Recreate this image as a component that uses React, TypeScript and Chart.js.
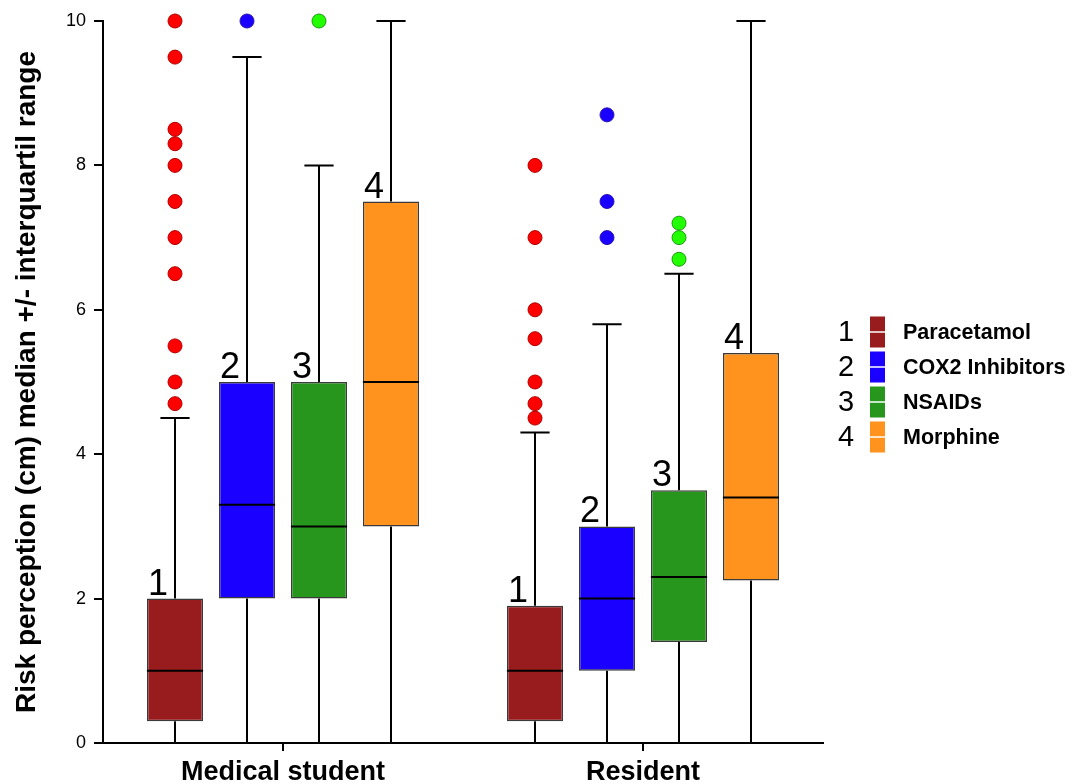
import React, { useEffect, useRef } from 'react';
import { Chart, registerables } from 'chart.js';

Chart.register(...registerables);

const categories = ['Medical student', 'Resident'];
const drugs = ['Paracetamol', 'COX2 Inhibitors', 'NSAIDs', 'Morphine'];
const drugNumbers = ['1', '2', '3', '4'];
const boxColors = ['#981b1e', '#1a00ff', '#27961c', '#ff931e'];
const outlierColors = ['#ff0000', '#1a00ff', '#22ff00', '#ff931e'];
const outlierBorders = ['#b00000', '#2a14b0', '#1c9a10', '#b06010'];

// indexed [drug][group]
const whiskerLow = [[0, 0], [0, 0], [0, 0], [0, 0]];
const q1 = [[0.3, 0.3], [2, 1], [2, 1.4], [3, 2.25]];
const median = [[1, 1], [3.3, 2], [3, 2.3], [5, 3.4]];
const q3 = [[2, 1.9], [5, 3], [5, 3.5], [7.5, 5.4]];
const whiskerHigh = [[4.5, 4.3], [9.5, 5.8], [8, 6.5], [10, 10]];

const paracetamolOutliers = [[4.7, 5, 5.5, 6.5, 7, 7.5, 8, 8.3, 8.5, 9.5, 10], [4.5, 4.7, 5, 5.6, 6, 7, 8]];
const cox2Outliers = [[10], [7, 7.5, 8.7]];
const nsaidOutliers = [[10], [6.7, 7, 7.2]];
const morphineOutliers: number[][] = [[], []];
const outliers = [paracetamolOutliers, cox2Outliers, nsaidOutliers, morphineOutliers];

const yTicks = [0, 2, 4, 6, 8, 10];

const CAT_PCT = 0.8;
const BAR_PCT = 0.78;
const FONT = "'Liberation Sans', Arial, Helvetica, sans-serif";

// x position (in category units) of drug d inside group g
const slotX = (g: number, d: number) => g + (d - (drugs.length - 1) / 2) * (CAT_PCT / drugs.length);

const boxPlugin = {
  id: 'boxParts',
  beforeDatasetsDraw(chart: any) {
    const { ctx } = chart;
    const y = chart.scales.y;
    ctx.save();
    ctx.strokeStyle = '#000';
    ctx.lineWidth = 2;
    for (let d = 0; d < drugs.length; d++) {
      const meta = chart.getDatasetMeta(d);
      meta.data.forEach((bar: any, g: number) => {
        const x = bar.x;
        const w = bar.width;
        const yLo = y.getPixelForValue(whiskerLow[d][g]);
        const yHi = y.getPixelForValue(whiskerHigh[d][g]);
        const yQ1 = y.getPixelForValue(q1[d][g]);
        const yQ3 = y.getPixelForValue(q3[d][g]);
        ctx.beginPath();
        ctx.moveTo(x, yQ1);
        ctx.lineTo(x, yLo);
        ctx.moveTo(x, yQ3);
        ctx.lineTo(x, yHi);
        ctx.moveTo(x - w * 0.26, yHi);
        ctx.lineTo(x + w * 0.26, yHi);
        ctx.stroke();
      });
    }
    ctx.restore();
  },
  afterDatasetDraw(chart: any, args: any) {
    const d = args.index;
    if (d >= drugs.length) return;
    const { ctx } = chart;
    const y = chart.scales.y;
    const meta = chart.getDatasetMeta(d);
    ctx.save();
    meta.data.forEach((bar: any, g: number) => {
      const x = bar.x;
      const w = bar.width;
      const yM = y.getPixelForValue(median[d][g]);
      ctx.strokeStyle = '#000';
      ctx.lineWidth = 2;
      ctx.beginPath();
      ctx.moveTo(x - w / 2, yM);
      ctx.lineTo(x + w / 2, yM);
      ctx.stroke();
      const yQ3 = y.getPixelForValue(q3[d][g]);
      ctx.fillStyle = '#000';
      ctx.font = `36px ${FONT}`;
      ctx.textAlign = 'center';
      ctx.textBaseline = 'alphabetic';
      ctx.fillText(drugNumbers[d], x - 17, yQ3 - 4);
    });
    ctx.restore();
  },
  afterDraw(chart: any) {
    const { ctx, chartArea } = chart;
    ctx.save();
    const x0 = chartArea.right;
    drugs.forEach((name, i) => {
      const cy = 332 + i * 35;
      ctx.fillStyle = '#000';
      ctx.font = `29px ${FONT}`;
      ctx.textAlign = 'center';
      ctx.textBaseline = 'middle';
      ctx.fillText(drugNumbers[i], x0 + 23, cy + 1);
      ctx.fillStyle = boxColors[i];
      ctx.fillRect(x0 + 47, cy - 15.5, 15, 31);
      ctx.strokeStyle = '#fff';
      ctx.lineWidth = 1.5;
      ctx.beginPath();
      ctx.moveTo(x0 + 47, cy);
      ctx.lineTo(x0 + 62, cy);
      ctx.stroke();
      ctx.fillStyle = '#000';
      ctx.font = `bold 21.5px ${FONT}`;
      ctx.textAlign = 'left';
      ctx.fillText(name, x0 + 80, cy + 1);
    });
    ctx.restore();
  },
};

export default function App() {
  const ref = useRef<HTMLCanvasElement | null>(null);

  useEffect(() => {
    if (!ref.current) return;
    const barSets = drugs.map((name, d) => ({
      type: 'bar' as const,
      label: name,
      data: categories.map((_, g) => ({ x: slotX(g, d), y: [q1[d][g], q3[d][g]] })),
      backgroundColor: boxColors[d],
      borderColor: '#3a3a3a',
      borderWidth: 1.5,
      borderSkipped: false,
      categoryPercentage: 1,
      barPercentage: BAR_PCT,
      grouped: false,
      xAxisID: 'xo',
      yAxisID: 'y',
    }));
    const pointSets = drugs.map((name, d) => ({
      type: 'scatter' as const,
      label: name + ' outliers',
      data: outliers[d].flatMap((vals, g) => vals.map((v) => ({ x: slotX(g, d), y: v }))),
      backgroundColor: outlierColors[d],
      borderColor: outlierBorders[d],
      borderWidth: 1,
      pointRadius: 7,
      showLine: false,
      clip: false,
      xAxisID: 'xo',
      yAxisID: 'y',
    }));

    const chart = new Chart(ref.current, {
      type: 'bar',
      data: { labels: categories, datasets: [...barSets, ...pointSets] as any },
      options: {
        animation: false,
        responsive: false,
        layout: { padding: { top: 21, right: 261, left: 0, bottom: 0 } },
        plugins: { legend: { display: false }, tooltip: { enabled: false } },
        scales: {
          x: {
            type: 'category',
            labels: categories,
            offset: true,
            grid: {
              display: true,
              drawOnChartArea: false,
              drawTicks: true,
              tickLength: 8,
              offset: false,
              color: '#000',
              lineWidth: 2,
            },
            border: { display: true, color: '#000', width: 2 },
            ticks: { color: '#000', font: { family: FONT, size: 27, weight: 'bold' }, padding: 5 },
            afterFit: (s: any) => { s.height = 41; },
          },
          xo: {
            type: 'linear',
            display: false,
            offset: false,
            grid: { offset: false },
            min: -0.5,
            max: 1.5,
          },
          y: {
            type: 'linear',
            min: 0,
            max: 10,
            afterBuildTicks: (s: any) => { s.ticks = yTicks.map((v) => ({ value: v })); },
            grid: {
              display: true,
              drawOnChartArea: false,
              drawTicks: true,
              tickLength: 9,
              color: '#000',
              lineWidth: 2,
            },
            border: { display: true, color: '#000', width: 2 },
            ticks: { color: '#000', font: { family: FONT, size: 18 }, padding: 8 },
            title: {
              display: true,
              text: 'Risk perception (cm) median +/- interquartil range',
              color: '#000',
              font: { family: FONT, size: 28, weight: 'bold' },
              padding: { top: 10, bottom: 0 },
            },
            afterFit: (s: any) => { s.width = 103; },
          },
        },
      } as any,
      plugins: [boxPlugin],
    });
    return () => chart.destroy();
  }, []);

  return (
    <div style={{ position: 'absolute', left: 0, top: 0, width: 1084, height: 784, background: '#fff' }}>
      <canvas ref={ref} width={1084} height={784} />
    </div>
  );
}
